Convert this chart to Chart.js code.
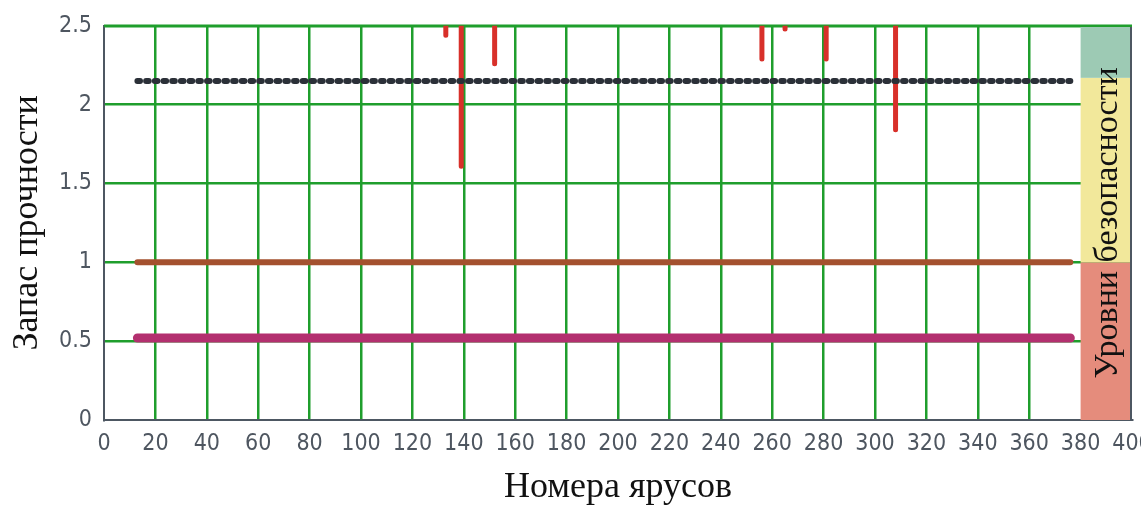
<!DOCTYPE html>
<html lang="ru">
<head>
<meta charset="utf-8">
<title>Запас прочности по ярусам</title>
<script src="https://cdn.jsdelivr.net/npm/chart.js@4.4.1/dist/chart.umd.min.js"></script>
<style>
  html, body { margin: 0; padding: 0; background: #ffffff; }
  #wrap { width: 1141px; height: 506px; position: relative; }
</style>
</head>
<body>
<div id="wrap"><canvas id="strengthChart"></canvas></div>
<script>
// ---- data ----
const xTicks = [0, 20, 40, 60, 80, 100, 120, 140, 160, 180, 200, 220, 240, 260, 280, 300, 320, 340, 360, 380, 400];
const yTicks = [0, 0.5, 1, 1.5, 2, 2.5];

// start / end tier of the horizontal lines
const lineTiers = [13, 376];
const normLevel = [2.15, 2.15];     // black dotted
const warnLevel = [1.0, 1.0];       // brown
const critLevel = [0.52, 0.52];     // magenta

// red spikes: tier and lowest value (they come down from above the top)
const spikeTiers = [133, 139, 152, 256, 265, 281, 308];
const spikeMins = [2.44, 1.61, 2.26, 2.29, 2.48, 2.29, 1.84];
const spikeTop = 2.6;

// safety level band on the right
const bandFrom = 380;
const bandTo = 400;
const bandLevels = [0, 1, 2.17, 2.5];
const bandColors = ['#e58c7c', '#f2e89b', '#9dcab4'];
const bandLabel = 'Уровни безопасности';

const gridGreen = '#1f9e2c';
const axisGray = '#4d5762';
const serif = '"Liberation Serif", "Times New Roman", serif';
const narrow = '"Liberation Sans Narrow", "DejaVu Sans Condensed", sans-serif';

function levelPoints(levels) {
    return lineTiers.map((t, i) => ({ x: t, y: levels[i] }));
}

// every spike is its own two-point segment, separated by a gap
const spikePoints = [];
spikeTiers.forEach((t, i) => {
    spikePoints.push({ x: t, y: spikeTop });
    spikePoints.push({ x: t, y: spikeMins[i] });
    spikePoints.push({ x: t, y: null });
});

// ==========================================================================
// band on the right + frame lines
// ==========================================================================
const bandPlugin = {
    id: 'bandPlugin',
    beforeDatasetsDraw(chart) {
        const { ctx, chartArea, scales: { x, y } } = chart;
        const left = x.getPixelForValue(bandFrom);
        const right = x.getPixelForValue(bandTo);
        ctx.save();
        for (let i = 0; i < bandColors.length; i++) {
            const top = y.getPixelForValue(bandLevels[i + 1]);
            const bottom = y.getPixelForValue(bandLevels[i]);
            ctx.fillStyle = bandColors[i];
            ctx.fillRect(left, top, right - left, bottom - top);
        }
        // right frame
        ctx.strokeStyle = axisGray;
        ctx.lineWidth = 2;
        ctx.beginPath();
        ctx.moveTo(right - 1, chartArea.top);
        ctx.lineTo(right - 1, chartArea.bottom);
        ctx.stroke();
        // green top line over the band
        ctx.strokeStyle = gridGreen;
        ctx.lineWidth = 2.5;
        ctx.beginPath();
        ctx.moveTo(chartArea.left, chartArea.top);
        ctx.lineTo(right, chartArea.top);
        ctx.stroke();
        // band label
        ctx.translate((left + right) / 2, (chartArea.top + chartArea.bottom) / 2);
        ctx.rotate(-Math.PI / 2);
        ctx.fillStyle = '#111111';
        ctx.font = '34px ' + serif;
        ctx.textAlign = 'center';
        ctx.textBaseline = 'middle';
        ctx.fillText(bandLabel, 0, 2);
        ctx.restore();
    }
};

const ctx = document.getElementById('strengthChart').getContext('2d');
new Chart(ctx, {
    type: 'line',
    data: {
        datasets: [
            {
                label: 'Критический уровень',
                data: levelPoints(critLevel),
                borderColor: '#b3306f',
                borderWidth: 9,
                pointRadius: 0,
                borderCapStyle: 'round'
            },
            {
                label: 'Допустимый уровень',
                data: levelPoints(warnLevel),
                borderColor: '#a4512f',
                borderWidth: 6,
                pointRadius: 0,
                borderCapStyle: 'round'
            },
            {
                label: 'Нормативный уровень',
                data: levelPoints(normLevel),
                borderColor: '#2b3038',
                borderWidth: 6,
                borderDash: [2.6, 6.1],   // round caps turn these into chained blobs
                pointRadius: 0,
                borderCapStyle: 'round'
            },
            {
                label: 'Запас прочности',
                data: spikePoints,
                borderColor: '#d8302a',
                borderWidth: 5,
                pointRadius: 0,
                spanGaps: false,
                borderCapStyle: 'round'
            }
        ]
    },
    options: {
        responsive: true,
        maintainAspectRatio: false,
        animation: false,
        layout: { padding: { top: 24, right: 9, left: 0, bottom: 0 } },
        plugins: { legend: { display: false }, tooltip: { enabled: false } },
        scales: {
            x: {
                type: 'linear',
                min: 0,
                max: 400,
                afterBuildTicks: (scale) => { scale.ticks = xTicks.map(v => ({ value: v })); },
                afterFit: (scale) => {
                    scale.height = 86;
                    scale.paddingLeft = 0;
                    scale.paddingRight = 0;
                },
                grid: {
                    color: (c) => (c.tick && (c.tick.value === 0 || c.tick.value >= 380)) ? 'rgba(0,0,0,0)' : gridGreen,
                    lineWidth: 2.5,
                    drawTicks: false
                },
                border: { color: axisGray, width: 2 },
                ticks: {
                    padding: 10,
                    color: '#4e5660',
                    font: { family: narrow, size: 23 },
                    maxRotation: 0,
                    autoSkip: false
                },
                title: {
                    display: true,
                    text: 'Номера ярусов',
                    color: '#111111',
                    font: { family: serif, size: 36 },
                    padding: { top: 0, bottom: -3 }
                }
            },
            y: {
                type: 'linear',
                min: 0,
                max: 2.5,
                afterBuildTicks: (scale) => { scale.ticks = yTicks.map(v => ({ value: v })); },
                afterFit: (scale) => { scale.width = 104; },
                grid: {
                    color: (c) => (c.tick && c.tick.value === 0) ? 'rgba(0,0,0,0)' : gridGreen,
                    lineWidth: 2.5,
                    drawTicks: false
                },
                border: { color: axisGray, width: 2 },
                ticks: {
                    padding: 12,
                    color: '#4e5660',
                    font: { family: narrow, size: 23 },
                    callback: (v) => String(v)
                },
                title: {
                    display: true,
                    text: 'Запас прочности',
                    color: '#111111',
                    font: { family: serif, size: 36 },
                    padding: { top: 6, bottom: 0 }
                }
            }
        }
    },
    plugins: [bandPlugin]
});
</script>
</body>
</html>
